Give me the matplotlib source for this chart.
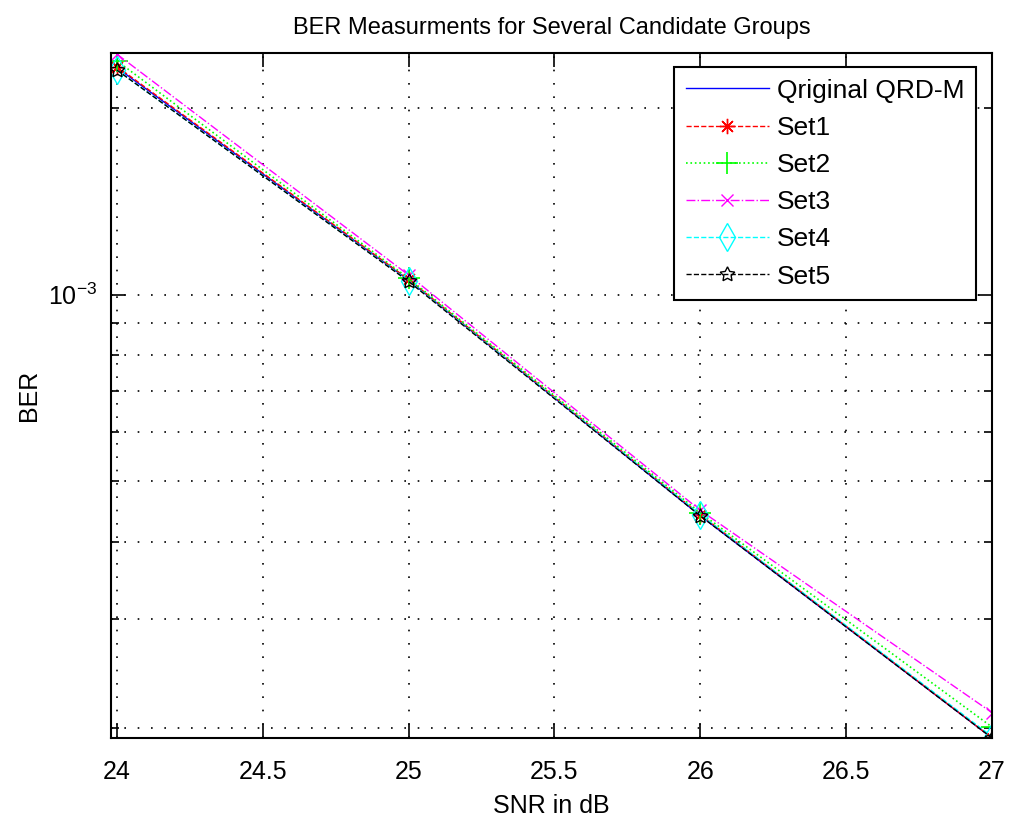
import numpy as np
import matplotlib
matplotlib.use('Agg')
import matplotlib.pyplot as plt
from matplotlib.ticker import LogLocator, NullFormatter, MultipleLocator, FormatStrFormatter

plt.rcParams['font.family'] = ['Liberation Sans', 'DejaVu Sans']
plt.rcParams['mathtext.fontset'] = 'custom'
plt.rcParams['mathtext.rm'] = 'Liberation Sans'
plt.rcParams['mathtext.it'] = 'Liberation Sans:italic'

# data (SNR in dB vs BER)
snr = [24, 25, 26, 27]
ber_orig = [2.32e-3, 1.055e-3, 4.40e-4, 1.93e-4]
ber_set1 = [2.33e-3, 1.058e-3, 4.42e-4, 1.93e-4]
ber_set2 = [2.38e-3, 1.062e-3, 4.45e-4, 2.01e-4]
ber_set3 = [2.44e-3, 1.075e-3, 4.49e-4, 2.12e-4]
ber_set4 = [2.30e-3, 1.052e-3, 4.42e-4, 1.94e-4]
ber_set5 = [2.30e-3, 1.050e-3, 4.40e-4, 1.93e-4]
labels = ['Qriginal QRD-M', 'Set1', 'Set2', 'Set3', 'Set4', 'Set5']

fig = plt.figure(figsize=(10.12, 8.19), dpi=100)
ax = fig.add_axes([0.1097, 0.0989, 0.8706, 0.8364])

ax.semilogy(snr, ber_orig, color='#0000ff', ls='-', lw=1.0, label=labels[0])
ax.semilogy(snr, ber_set1, color='#ff0000', ls='--', lw=1.0, marker=(8, 2, 0),
            ms=11, mew=1.0, label=labels[1])
ax.semilogy(snr, ber_set2, color='#00ff00', ls=':', lw=1.2, marker='+',
            ms=16, mew=1.2, label=labels[2])
ax.semilogy(snr, ber_set3, color='#ff00ff', ls='-.', lw=1.0, marker='x',
            ms=8, mew=1.0, label=labels[3])
ax.semilogy(snr, ber_set4, color='#00ffff', ls='--', lw=1.0, marker='d',
            ms=14, mew=1.0, mfc='none', label=labels[4])
ax.semilogy(snr, ber_set5, color='black', ls='--', lw=1.0, marker=(5, 1, 0),
            ms=11, mew=1.0, mfc='none', label=labels[5])

ax.set_xlim(23.98, 27)
ax.set_ylim(1.93e-4, 2.45e-3)
ax.xaxis.set_major_locator(MultipleLocator(0.5))
ax.xaxis.set_major_formatter(FormatStrFormatter('%g'))
ax.yaxis.set_major_locator(LogLocator(base=10))
ax.yaxis.set_minor_locator(LogLocator(base=10, subs=np.arange(2, 10)))
ax.yaxis.set_minor_formatter(NullFormatter())

ax.grid(True, which='both', color='black', ls=(0, (1, 7)), lw=1.2)
ax.tick_params(which='both', direction='in', top=True, right=True,
               labelsize=18, width=1.2)
ax.tick_params(axis='x', pad=16)
ax.tick_params(axis='y', pad=10)
ax.tick_params(which='major', length=10)
ax.tick_params(which='minor', length=6)
for sp in ax.spines.values():
    sp.set_linewidth(1.5)

ax.set_title('BER Measurments for Several Candidate Groups', fontsize=17, pad=14)
ax.set_xlabel('SNR in dB', fontsize=18, labelpad=7)
ax.set_ylabel('BER', fontsize=18, labelpad=5)

leg = ax.legend(loc='upper right', bbox_to_anchor=(0.982, 0.98), borderaxespad=0,
                fontsize=19, fancybox=False, framealpha=1, edgecolor='black',
                handlelength=3.15, handletextpad=0.3, labelspacing=0.5,
                borderpad=0.45)
leg.get_frame().set_linewidth(1.5)

fig.savefig('out.png', dpi=100)
